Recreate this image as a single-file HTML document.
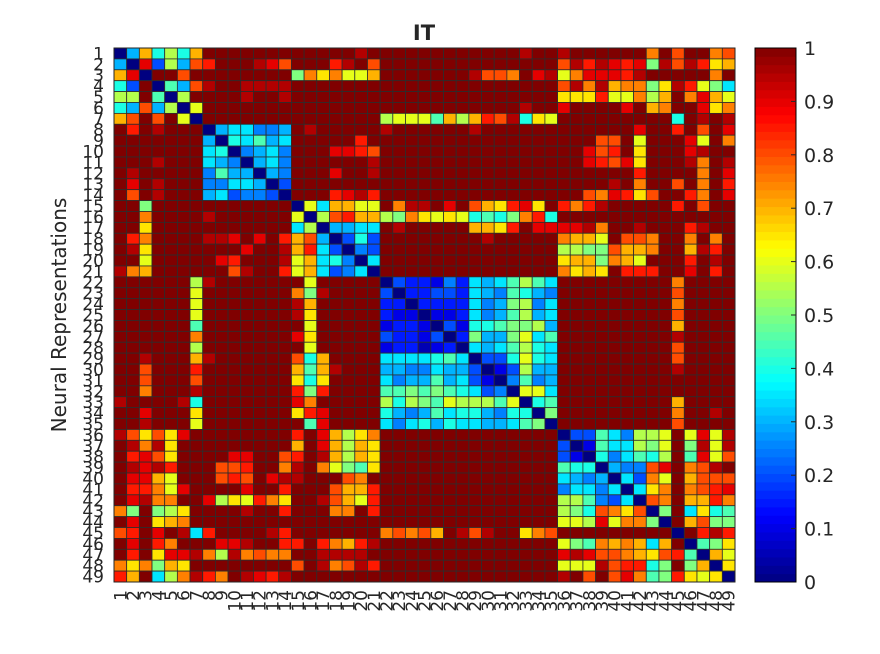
<!DOCTYPE html>
<html><head><meta charset="utf-8"><style>
html,body{margin:0;padding:0;background:#fff;}
svg{display:block;font-family:"DejaVu Sans","Liberation Sans",sans-serif;}
</style></head><body>
<svg id="chart" width="880" height="654" viewBox="0 0 880 654" xmlns="http://www.w3.org/2000/svg">
<rect x="0" y="0" width="880" height="654" fill="#fff"/>
<text x="424" y="40" text-anchor="middle" font-size="21" font-weight="bold" fill="#262626">IT</text>
<text transform="translate(66,315) rotate(-90)" text-anchor="middle" font-size="20" fill="#262626">Neural Representations</text>
<g id="cells"></g>
<g id="yticks"></g>
<g id="xticks"></g>
<g id="cbar"></g>
</svg>
<script>
// Row/column category labels
const labels = Array.from({length:49},(_,i)=>String(i+1));
// Dissimilarity codes: a=0.00, b=0.05, ... u=1.00 (groups: 1-7, 8-14, 15-21, 22-24, 25-35, 36-44, 45-49)
const rows = [
"agoilio uuuuuuu uuuuutu uuu uuuuuuuutuu tuuuuuupu quupq",
"gaselgq ruuutsq uuurtuq uuu uuuuuuuuuuu qtrtsrskt qtrno",
"osauuqu uuuuuuu kpnpmmo uuu uuuutqqpust mpsssrtuu uuupu",
"ieuajgq tuutttt uuuuuuu uuu uuuuuuuuuuu qtptoppkn trmkh",
"llujalu uuutuut uuuuuuu uuu uuuuuuuuuuu nnnrmmplo upsom",
"igqglam uuuuuuu uuuuuuu uuu uuuuuuuutuu suuuusuop uusnp",
"oququma uuuuuuu uuuuuuu lmm mjolorqtinm uuuuuuuuu iutut",
"urutuuu aghhffg utuuuuu tuu uuuutuuuuuu uuuuuusuu ruqus",
"uuuuuuu gaihjgh uuuuuru uuu uuuuuuuuuuu uuuqqumuu usmup",
"uuuuuuu hiafghf uuussrq uuu uuuuuuuuuuu uusqrunuu ustuu",
"uuutuuu hgfaghf uuuuuut uuu uuuuuuuuuuu uusrqsnuu utput",
"utuuuuu fjggagf uuusuut uuu uuuuuuuuuuu uuuuuuruu uupus",
"usutuuu ffhhgae uuuuuuu uuu uuuuuuuuuuu uuuutupuu qupur",
"uqutuuu gheffea uuurstr uuu uuuuuuuuuuu uuqpsrnqu urpus",
"uukuuuu uuuuuuu amhoomm upt tusuqonrsnu rprtuuuuu ruquu",
"uupuuuu tuuuuuu malqroo lkp nmnmijikpri uuuuuuuuu uuuuu",
"uunuuuu uuuuuuu hlagghh utu uuuuoonruss sstpuutuu urtuu",
"urpuuuu ttsusur oqgaeie uuu uuuuutuuuuu poomuqqpu upupu",
"utnuuuu uuusuut orheafe uuu uuuuuuuuuuu llkkqoopu uotru",
"uumuuuu usruuut mohifah uuu uuuuuuuuuuu nookpomuu urutu",
"tpouuuu uuqtuur mohefha uuu uuuuuuuuuuu pnonurrru usuru",
"uuuuuul tuuuuuu umuuuuu aed dcfdhghjljh uuuuuuuuu puuuu",
"uuuuuum uuuuuuu pktuuuu ead deedhgfjigf uuuuuuuuu quuuu",
"uuuuuum uuuuuuu touuuuu dda ddddhfgklfh uuuuuuuuu puuuu",
"uuuuuum uuuuuuu tnuuuuu dcc accdhfgjlgh uuuuuuuuu quuuu",
"uuuuuuj uuuuuuu umuuuuu cdd caeciijkklg uuuuuuuuu ouuuu",
"uuuuuup uuuuuuu snuuuuu edd ceadkggkmhj uuuuuuuuu tuuuu",
"uuuuuul uuuuuuu umuuuuu cdd bcdahghjlih uuuuuuuuu quuuu",
"uutuuuo tuuuuuu qiouuuu hhh hijhaeeimih uuuuuuuuu quuuu",
"uuquuur uuuuuuu ojotuuu ggf fhggeacelgg uuuuuuuuu tuuuu",
"uuquuuq uuuuuuu ninuuuu hfg gjghecafjfg uuuuuuuuu uuuuu",
"uupuuut uuuuuuu rkruuuu jjk jkjihefammh uuuuuuuuu uuuuu",
"tuuuuti uuuuuuu spuuuuu lil kjmllljmaij uuuuuuuuu ouuuu",
"uusuuun uuuuuuu nrsuuuu igf gjhiigfiiak uuuuuuuuu puutu",
"uutuuum uuuuuuu ujsuuuu hfh igihhgghjka uuuuuuuuu quuuu",
"tqnqnsu uuuuuuu rusolnp uuu uuuuuuuuuuu aeejhfllm umsmt",
"utptnuu uuuuuuu ousolon uuu uuuuuuuuuuu eacjhhlkm uktmt",
"ursqnuu uussuuq rutolon uuu uuuuuuuuuuu ecaifhjil ujsmq",
"utstruu uqqruup tupmkjn uuu uuuuuuuuuuu jiiagffqs upqtu",
"ussomuu uqrqust tuuuqpu uuu uuuuuuuuuuu hgfgahepm uoqqq",
"urrpmsu uuusuur uuuqoor uuu uuuuuuuuuuu fhhfhahnp upqrs",
"ustppuu slnmrpn uutqomr uuu uuuuuuuuuuu lljfehaqp uoorp",
"pkuklnu uuutuur uuuppur uuu uuuuuuuuuuu lkiqpnqak uhnij",
"usunopu uuuuuuu uuuuuuu uuu uuuuuuuuuuu mmlsmppka uoqkk",
"qrusuth ruuuutr uuuuuuu pqp qoutqtuunpq uuuuuuuuu aurtr",
"usurpuu usstuur rurport uuu uuuuuuuuuuu mkjpopoho uajkn",
"urunsst pltpqpp uuttttu uuu uuuuuuuuuuu stsqqponq rjaom",
"pnpkonu uuuuuuu qutpqtr uuu uuuuuuuuuuu mmmtqrrik ukoan",
"rouhlpt rputsrt uuuuuuu uuu uuuuuuuuuuu tuquqspjk rnmna"
];
// Colorbar tick labels
const cbTicks = [0,0.1,0.2,0.3,0.4,0.5,0.6,0.7,0.8,0.9,1];
const cbTickLabels = ["0","0.1","0.2","0.3","0.4","0.5","0.6","0.7","0.8","0.9","1"];

const NS="http://www.w3.org/2000/svg";
const X0=114, X1=735, Y0=48, Y1=582;
const n = labels.length;
const cw=(X1-X0)/n, ch=(Y1-Y0)/n;
const xPos = i => X0 + i*cw;
const yPos = i => Y0 + i*ch;
function decode(c){ return (c.charCodeAt(0)-97)*0.05; }
function jet(v){
  const cl=t=>Math.max(0,Math.min(1,t));
  const r=cl(1.5-Math.abs(4*v-3)), g=cl(1.5-Math.abs(4*v-2)), b=cl(1.5-Math.abs(4*v-1));
  return `rgb(${Math.round(r*255)},${Math.round(g*255)},${Math.round(b*255)})`;
}
const matrix = rows.map(r=>r.replace(/ /g,'').split('').slice(0,n).map(decode));

const gc=document.getElementById('cells');
matrix.forEach((row,i)=>{
  row.forEach((v,j)=>{
    const r=document.createElementNS(NS,'rect');
    r.setAttribute('x',xPos(j)); r.setAttribute('y',yPos(i));
    r.setAttribute('width',cw); r.setAttribute('height',ch);
    r.setAttribute('fill',jet(v)); r.setAttribute('stroke','#2d2d2d'); r.setAttribute('stroke-width','0.8');
    
    
    gc.appendChild(r);
  });
});
const border=document.createElementNS(NS,'rect');
border.setAttribute('x',X0); border.setAttribute('y',Y0); border.setAttribute('width',X1-X0); border.setAttribute('height',Y1-Y0);
border.setAttribute('fill','none'); border.setAttribute('stroke','#262626'); border.setAttribute('stroke-width','1');


gc.appendChild(border);

const gy=document.getElementById('yticks');
labels.forEach((l,i)=>{
  const t=document.createElementNS(NS,'text');
  t.setAttribute('x',104); t.setAttribute('y',yPos(i)+ch/2+6);
  t.setAttribute('text-anchor','end'); t.setAttribute('font-size','17'); t.setAttribute('fill','#262626');
  t.textContent=l;
  
  
  gy.appendChild(t);
});
const gx=document.getElementById('xticks');
labels.forEach((l,i)=>{
  const cx=xPos(i)+cw/2+6;
  const t=document.createElementNS(NS,'text');
  t.setAttribute('transform',`translate(${cx},590) rotate(-90)`);
  t.setAttribute('text-anchor','end'); t.setAttribute('font-size','17'); t.setAttribute('fill','#262626');
  t.textContent=l;
  
  
  gx.appendChild(t);
});

// colorbar
const CB0=755, CB1=796, steps=64;
const gcb=document.getElementById('cbar');
const cbY = v => Y1 - v*(Y1-Y0);
for(let k=0;k<steps;k++){
  const v0=k/steps, v1=(k+1)/steps;
  const r=document.createElementNS(NS,'rect');
  r.setAttribute('x',CB0); r.setAttribute('y',cbY(v1)); r.setAttribute('width',CB1-CB0); r.setAttribute('height',cbY(v0)-cbY(v1)+0.5);
  r.setAttribute('fill',jet((k+0.5)/steps));
  
  
  gcb.appendChild(r);
}
const cbb=document.createElementNS(NS,'rect');
cbb.setAttribute('x',CB0); cbb.setAttribute('y',Y0); cbb.setAttribute('width',CB1-CB0); cbb.setAttribute('height',Y1-Y0);
cbb.setAttribute('fill','none'); cbb.setAttribute('stroke','#000'); cbb.setAttribute('stroke-width','1');


gcb.appendChild(cbb);
cbTicks.forEach((v,k)=>{
  const y=cbY(v);
  if(k>0 && k<cbTicks.length-1){
    const ln=document.createElementNS(NS,'line');
    ln.setAttribute('x1',CB1-5); ln.setAttribute('x2',CB1); ln.setAttribute('y1',y); ln.setAttribute('y2',y);
    ln.setAttribute('stroke','#262626'); ln.setAttribute('stroke-width','1');
    
    
    gcb.appendChild(ln);
  }
  const t=document.createElementNS(NS,'text');
  t.setAttribute('x',804); t.setAttribute('y',y+7);
  t.setAttribute('font-size','19'); t.setAttribute('fill','#262626');
  t.textContent=cbTickLabels[k];
  
  
  gcb.appendChild(t);
});
</script>
</body></html>
